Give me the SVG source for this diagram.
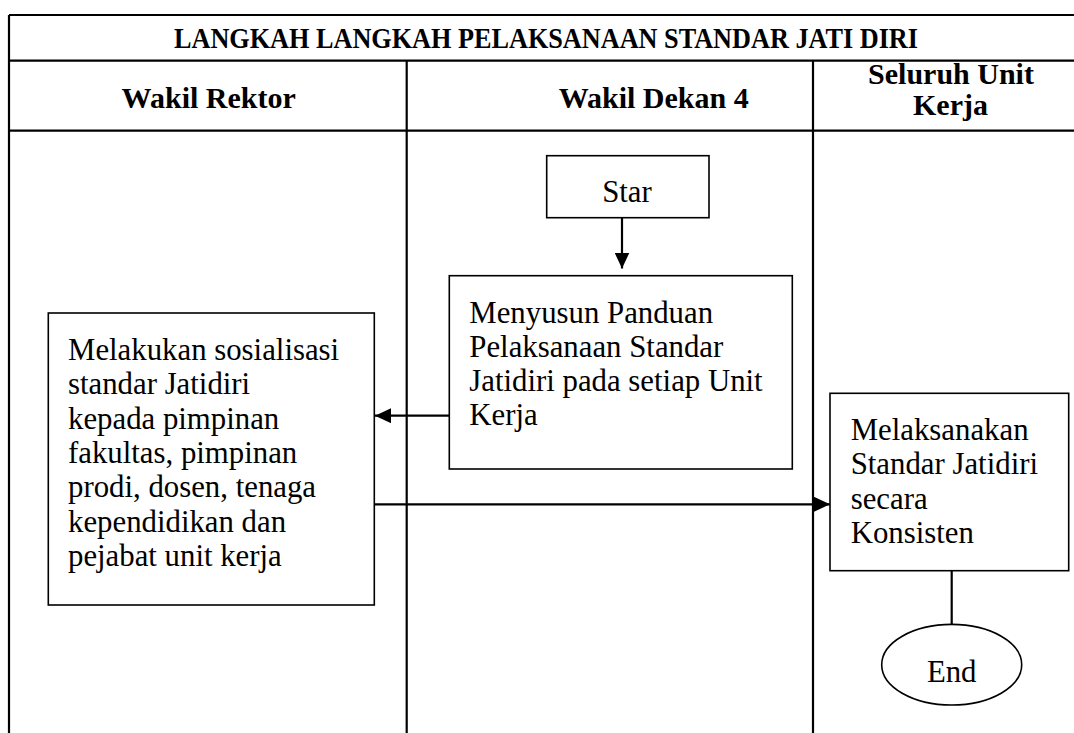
<svg xmlns="http://www.w3.org/2000/svg" width="1074" height="733" viewBox="0 0 1074 733">
<style>
.tbl{stroke:#000;stroke-width:2.2;fill:none}
.box{stroke:#000;stroke-width:1.6;fill:#fff}
.con{stroke:#000;stroke-width:2.2;fill:none}
.hd{font-family:"Liberation Serif","Times New Roman",serif;font-weight:bold;font-size:30px;fill:#000}
.tx{font-family:"Liberation Serif","Times New Roman",serif;font-size:30.8px;fill:#000}
</style>
<defs>
<marker id="ah" markerUnits="userSpaceOnUse" markerWidth="17" markerHeight="15" refX="16" refY="7.5" orient="auto">
<path d="M0,0 L16,7.5 L0,15 z" fill="#000"/>
</marker>
</defs>
<rect width="1074" height="733" fill="#fff"/>
<g id="table">
<line class="tbl" x1="9" y1="15" x2="1074" y2="15"/>
<line class="tbl" x1="9" y1="60.7" x2="1074" y2="60.7"/>
<line class="tbl" x1="9" y1="130.7" x2="1074" y2="130.7"/>
<line class="tbl" x1="9" y1="15" x2="9" y2="733"/>
<line class="tbl" x1="406.7" y1="60.7" x2="406.7" y2="733"/>
<line class="tbl" x1="813" y1="60.7" x2="813" y2="733"/>
<text class="hd" x="546" y="48" text-anchor="middle" font-size="28.5" textLength="744" lengthAdjust="spacingAndGlyphs">LANGKAH LANGKAH PELAKSANAAN STANDAR JATI DIRI</text>
<text class="hd" x="208.7" y="107.5" text-anchor="middle">Wakil Rektor</text>
<text class="hd" x="653.7" y="107.5" text-anchor="middle">Wakil Dekan 4</text>
<text class="hd" x="951" y="84.3" text-anchor="middle">Seluruh Unit</text>
<text class="hd" x="950.5" y="115" text-anchor="middle">Kerja</text>
</g>
<g id="connectors">
<line class="con" x1="622" y1="217.7" x2="622" y2="268.5" marker-end="url(#ah)"/>
<line class="con" x1="449.3" y1="415.7" x2="375" y2="415.7" marker-end="url(#ah)"/>
<line class="con" x1="374.3" y1="504.3" x2="830" y2="504.3" marker-end="url(#ah)"/>
<line class="con" x1="951.7" y1="570.7" x2="951.7" y2="624.3"/>
</g>
<g id="start">
<rect class="box" x="546.7" y="155.7" width="162.3" height="62"/>
<text class="tx" x="627" y="201.7" text-anchor="middle">Star</text>
</g>
<g id="menyusun">
<rect class="box" x="449.3" y="275.7" width="343" height="193.3"/>
<text class="tx" x="469.3" y="322.5">Menyusun Panduan</text>
<text class="tx" x="469.3" y="356.8">Pelaksanaan Standar</text>
<text class="tx" x="469.3" y="391">Jatidiri pada setiap Unit</text>
<text class="tx" x="469.3" y="425.3">Kerja</text>
</g>
<g id="sosialisasi">
<rect class="box" x="48.3" y="313" width="326" height="292"/>
<text class="tx" x="68" y="360">Melakukan sosialisasi</text>
<text class="tx" x="68" y="394.3">standar Jatidiri</text>
<text class="tx" x="68" y="428.6">kepada pimpinan</text>
<text class="tx" x="68" y="463">fakultas, pimpinan</text>
<text class="tx" x="68" y="497.3">prodi, dosen, tenaga</text>
<text class="tx" x="68" y="531.6">kependidikan dan</text>
<text class="tx" x="68" y="566">pejabat unit kerja</text>
</g>
<g id="melaksanakan">
<rect class="box" x="830" y="393.3" width="238.7" height="177.4"/>
<text class="tx" x="850.7" y="440">Melaksanakan</text>
<text class="tx" x="850.7" y="474.3">Standar Jatidiri</text>
<text class="tx" x="850.7" y="508.6">secara</text>
<text class="tx" x="850.7" y="543">Konsisten</text>
</g>
<g id="end">
<ellipse class="box" cx="951.7" cy="664.7" rx="70" ry="40.3"/>
<text class="tx" x="951.7" y="681.7" text-anchor="middle">End</text>
</g>
</svg>
